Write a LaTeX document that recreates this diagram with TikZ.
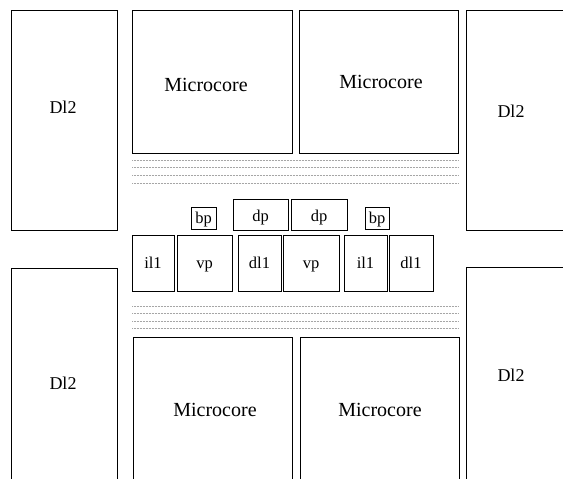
\documentclass[tikz,border=0pt]{standalone}
\usepackage{fontspec}
\setmainfont{Liberation Serif}
\begin{document}
\begin{tikzpicture}[x=1pt,y=-1pt,
  blk/.style={draw=black,line width=1pt,inner sep=0pt,outer sep=0pt,fill=white},
  lbl/.style={inner sep=0pt,font=\fontsize{18}{20}\selectfont},
  mclbl/.style={inner sep=0pt,font=\fontsize{20}{22}\selectfont},
  sm/.style={blk,font=\fontsize{16.5}{18}\selectfont,text height=11.5pt,text depth=0pt},
  dotl/.style={gray!70,line width=0.5pt,densely dotted}]
\useasboundingbox (0,0) rectangle (563,479);
\clip (0,0) rectangle (563,479);
% big blocks
\node[blk,minimum width=106pt,minimum height=220pt] (dlA) at (64,120) {};
\node[blk,minimum width=134pt,minimum height=220pt] (dlB) at (533,120) {};
\node[blk,minimum width=106pt,minimum height=232pt] (dlC) at (64,384) {};
\node[blk,minimum width=134pt,minimum height=233pt] (dlD) at (533,383.5) {};
\node[lbl] (tA) at (63,107) {Dl2};
\node[lbl] (tB) at (511,111) {Dl2};
\node[lbl] (tC) at (63,383) {Dl2};
\node[lbl] (tD) at (511,375) {Dl2};
\node[blk,minimum width=160pt,minimum height=143pt] (mcA) at (212,81.5) {};
\node[blk,minimum width=159pt,minimum height=143pt] (mcB) at (378.5,81.5) {};
\node[blk,minimum width=159pt,minimum height=163pt] (mcC) at (212.5,418.5) {};
\node[blk,minimum width=159pt,minimum height=163pt] (mcD) at (379.5,418.5) {};
\node[mclbl] (uA) at (206,85) {Microcore};
\node[mclbl] (uB) at (381,82) {Microcore};
\node[mclbl] (uC) at (215,410) {Microcore};
\node[mclbl] (uD) at (380,410) {Microcore};
% dotted lines
\foreach \yy in {160,167,175,183,306,313,321,328}
  \draw[dotl] (132,\yy) -- (458,\yy);
% middle blocks
\node[sm,minimum width=25pt,minimum height=22pt] (bp1) at (203.5,218) {bp};
\node[sm,text height=14pt,minimum width=55pt,minimum height=31pt] (dp1) at (260.5,214.5) {dp};
\node[sm,text height=14pt,minimum width=56pt,minimum height=31pt] (dp2) at (319,214.5) {dp};
\node[sm,minimum width=24pt,minimum height=22pt] (bp2) at (377,218) {bp};
\node[sm,minimum width=42pt,minimum height=56pt] (il1a) at (153,263) {il1};
\node[sm,minimum width=55pt,minimum height=56pt] (vpa) at (204.5,263) {vp};
\node[sm,minimum width=43pt,minimum height=56pt] (dl1a) at (259.5,263) {dl1};
\node[sm,minimum width=56pt,minimum height=56pt] (vpb) at (311,263) {vp};
\node[sm,minimum width=43pt,minimum height=56pt] (il1b) at (365.5,263) {il1};
\node[sm,minimum width=44pt,minimum height=56pt] (dl1b) at (411,263) {dl1};
\end{tikzpicture}
\end{document}
